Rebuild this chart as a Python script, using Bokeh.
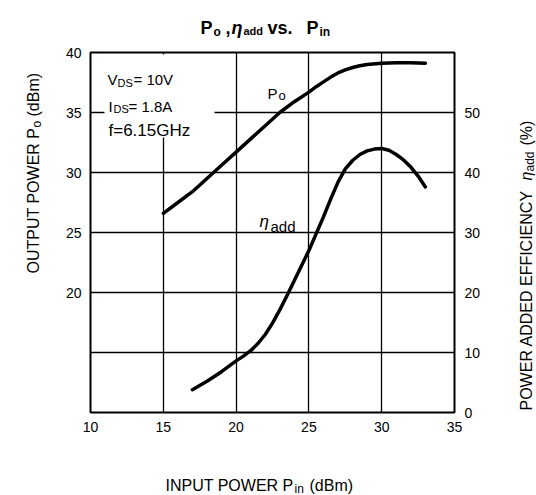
import math
from bokeh.plotting import figure
from bokeh.models import Range1d, LinearAxis, FixedTicker, Label, BoxAnnotation
from bokeh.layouts import column, row
from bokeh.embed import file_html
from bokeh.resources import INLINE

# ---- data ----
pin_po = [15, 16, 17, 18, 19, 20, 21, 22, 23, 24, 25, 25.5, 26, 26.5, 27, 27.5, 28, 28.5, 29, 30, 31, 32, 33]
po = [26.6, 27.5, 28.4, 29.5, 30.6, 31.7, 32.8, 33.9, 35.0, 35.9, 36.7, 37.15, 37.55, 37.95, 38.3, 38.55, 38.75, 38.9, 39.0, 39.1, 39.15, 39.15, 39.1]

pin_eta = [17, 18, 19, 20, 20.5, 21, 21.5, 22, 22.5, 23, 23.5, 24, 25, 26, 26.5, 27, 27.5, 28, 28.5, 29, 29.5, 30, 30.5, 31, 31.5, 32, 32.5, 33]
eta = [3.8, 5.2, 6.8, 8.6, 9.4, 10.3, 11.5, 13.0, 14.9, 17.1, 19.5, 22.0, 27.0, 32.6, 35.6, 38.4, 40.6, 42.0, 43.0, 43.6, 43.9, 44.0, 43.7, 43.0, 42.1, 40.9, 39.4, 37.6]

x_ticks = [10, 15, 20, 25, 30, 35]
y_left_ticks = [20, 25, 30, 35, 40]
y_grid_ticks = [15, 20, 25, 30, 35]
y_right_ticks = [0, 10, 20, 30, 40, 50]

FONT = "Liberation Sans"


def strip(w, h):
    f = figure(width=w, height=h, output_backend="svg", toolbar_location=None,
               x_range=Range1d(0, 1), y_range=Range1d(0, 1),
               x_axis_type=None, y_axis_type=None, min_border=0)
    f.outline_line_color = None
    f.background_fill_color = "white"
    f.border_fill_color = "white"
    f.xgrid.visible = False
    f.ygrid.visible = False
    return f


def txt(fig, x, y, s, size, style="normal", angle=0.0):
    fig.add_layout(Label(x=x, y=y, x_units="canvas", y_units="canvas", text=s,
                         text_font=FONT, text_font_size=f"{size}px",
                         text_font_style=style, text_color="black", text_align="left",
                         text_baseline="alphabetic", angle=angle))


# ---- main chart (page x 50..500, y 40..450) ----
p = figure(width=450, height=410, output_backend="svg", toolbar_location=None,
           x_range=Range1d(10, 35), y_range=Range1d(10, 40),
           min_border_left=40, min_border_right=46, min_border_top=12, min_border_bottom=38)
p.extra_y_ranges = {"eta": Range1d(0, 60)}

p.background_fill_color = "white"
p.border_fill_color = "white"
p.outline_line_color = "black"
p.outline_line_width = 2

for ax in (p.xaxis[0], p.yaxis[0]):
    ax.axis_line_color = None
    ax.major_tick_line_color = None
    ax.minor_tick_line_color = None
    ax.major_label_text_font = FONT
    ax.major_label_text_font_size = "14px"
    ax.major_label_text_color = "black"
p.xaxis.ticker = FixedTicker(ticks=x_ticks)
p.yaxis.ticker = FixedTicker(ticks=y_left_ticks)
p.xaxis.major_label_standoff = 3
p.yaxis.major_label_standoff = 3

ra = LinearAxis(y_range_name="eta", ticker=FixedTicker(ticks=y_right_ticks))
ra.axis_line_color = None
ra.major_tick_line_color = None
ra.minor_tick_line_color = None
ra.major_label_text_font = FONT
ra.major_label_text_font_size = "14px"
ra.major_label_text_color = "black"
ra.major_label_standoff = 4
p.add_layout(ra, "right")

p.xgrid.ticker = FixedTicker(ticks=x_ticks[1:-1])
p.ygrid.ticker = FixedTicker(ticks=y_grid_ticks)
for g in (p.xgrid[0], p.ygrid[0]):
    g.grid_line_color = "black"
    g.grid_line_width = 1.3
    g.grid_line_alpha = 1

p.line(pin_po, po, line_color="black", line_width=3.5, line_cap="round", line_join="round")
p.line(pin_eta, eta, y_range_name="eta", line_color="black", line_width=3.5,
       line_cap="round", line_join="round")

OX, OY = 50, 40
# white area behind the operating-conditions text
p.add_layout(BoxAnnotation(left=104 - OX, right=214 - OX, top=54 - OY, bottom=137 - OY,
                           left_units="canvas", right_units="canvas",
                           top_units="canvas", bottom_units="canvas",
                           fill_color="white", fill_alpha=1, line_color=None))

txt(p, 107 - OX, 79 - OY, "V", 15)
txt(p, 117 - OX, 82 - OY, "DS", 11)
txt(p, 133 - OX, 79 - OY, "= 10V", 15)
txt(p, 108 - OX, 106 - OY, "I", 15)
txt(p, 113 - OX, 108 - OY, "DS", 11)
txt(p, 128 - OX, 106 - OY, "= 1.8A", 15)
txt(p, 108 - OX, 130 - OY, "f=6.15GHz", 17)

txt(p, 267 - OX, 93 - OY, "P", 15)
txt(p, 278 - OX, 95 - OY, "o", 13)
txt(p, 259 - OX, 221 - OY, "η", 17, "italic")
txt(p, 270 - OX, 226 - OY, "add", 15)

# ---- title strip (page y 0..40) ----
top = strip(536, 40)
txt(top, 200, 27, "P", 18, "bold")
txt(top, 213, 31, "o", 12, "bold")
txt(top, 225, 27, ",", 18, "bold")
txt(top, 231, 27, "η", 18, "bold italic")
txt(top, 243, 30, "add", 11, "bold")
txt(top, 267, 27, "vs.", 18, "bold")
txt(top, 306, 27, "P", 18, "bold")
txt(top, 319, 31, "in", 12, "bold")

# ---- left strip (page x 0..50, y 40..450) ----
A = math.pi / 2
left = strip(50, 410)
txt(left, 33, 273 - OY, "OUTPUT POWER P", 16, angle=A)
txt(left, 36, 127 - OY, "o", 12, angle=A)
txt(left, 33, 116 - OY, "(dBm)", 16, angle=A)

# ---- right strip (page x 500..536, y 40..450) ----
right = strip(36, 410)
txt(right, 26, 410 - OY, "POWER ADDED EFFICIENCY", 16, angle=A)
txt(right, 26, 180 - OY, "η", 16, "italic", angle=A)
txt(right, 29, 171 - OY, "add", 12, angle=A)
txt(right, 26, 145 - OY, "(%)", 16, angle=A)

# ---- bottom strip (page y 450..495) ----
bottom = strip(536, 45)
txt(bottom, 165, 485 - 450, "INPUT POWER P", 16)
txt(bottom, 294, 488 - 450, "in", 12)
txt(bottom, 309, 485 - 450, "(dBm)", 16)

layout = column(top, row(left, p, right), bottom)
open("out.html", "w").write(file_html(layout, INLINE))
